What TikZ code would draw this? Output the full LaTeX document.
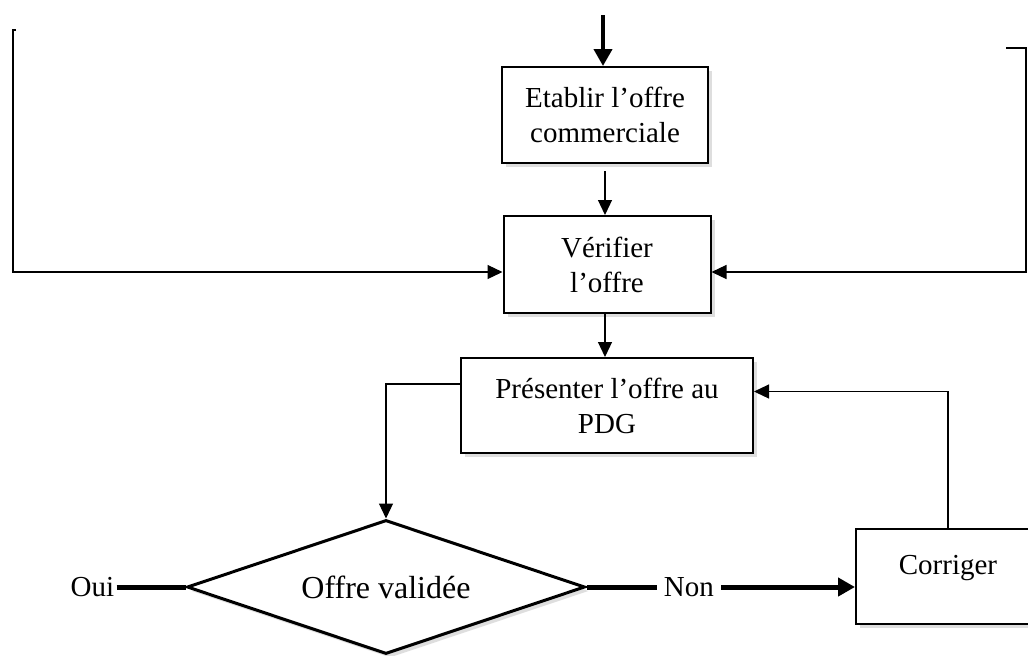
\documentclass[tikz,border=0pt]{standalone}
\usepackage{fontspec}
\setmainfont{Liberation Serif}
\usetikzlibrary{arrows.meta,shapes.geometric,shadows,positioning,calc}

\begin{document}
\begin{tikzpicture}[x=0.5pt, y=-0.5pt, line join=miter,
  every node/.style={font=\fontsize{14.5}{17.5}\selectfont},
  box/.style={draw, line width=1pt, fill=white, align=center, inner sep=0pt,
    drop shadow={shadow xshift=2pt, shadow yshift=-2pt, fill=black!25}},
  link/.style={-{Triangle[length=7.5pt,width=7pt]}, line width=0.6pt},
  bold/.style={line width=2.5pt}]
\fill[white] (0,0) rectangle (1028,655);
\useasboundingbox (0,0) rectangle (1028,655);
\clip (0,0) rectangle (1028,655);

\node[box, minimum width=103pt, minimum height=48pt] (etablir) at (605,115) {Etablir l'offre\\commerciale};
\node[box, minimum width=103.5pt, minimum height=48.5pt] (verifier) at (607,264.5) {Vérifier\\l'offre};
\node[box, minimum width=146pt, minimum height=47.5pt] (presenter) at (607,405.5) {Présenter l'offre au\\PDG};
\node[box, diamond, aspect=3, line width=1.5pt, minimum width=199pt, minimum height=67pt,
  font=\fontsize{16}{18}\selectfont] (valide) at (386,587) {Offre validée};
\node[box, minimum width=92pt, minimum height=47.5pt] (corriger) at (948,576.5) {\raisebox{4.5pt}[0.7em][0.2em]{Corriger}};
\node[left=34.5pt of valide.west, inner sep=1pt] (oui) {Oui};
\node[right=35pt of valide.east, inner sep=3.5pt] (non) {Non};

\coordinate (entree) at (603,15);
\coordinate (hautG) at (13,30);
\coordinate (basG) at (13,272);
\coordinate (hautD) at (1026,48);
\coordinate (basD) at (1026,272);
\coordinate (coudeP) at (386,384);

\draw[line width=2pt, -{Triangle[length=8.5pt,width=9pt]}] (entree) -- (entree |- etablir.north);
\draw[link] ($(etablir.south)+(0,7)$) -- (etablir.south |- verifier.north);
\draw[link] ($(hautG)+(3,0)$) -- (hautG) -- (basG) -- (basG -| verifier.west);
\draw[link] ($(hautD)+(-20,0)$) -- (hautD) -- (basD) -- (basD -| verifier.east);
\draw[link] (verifier.south -| etablir.south) -- (etablir.south |- presenter.north);
\draw[link] (presenter.west |- coudeP) -- (coudeP) -- (valide.north);
\draw[link] (corriger.north) |- ($(presenter.east)+(0,-14)$);
\draw[bold] (oui.east) -- (valide.west);
\draw[bold] (valide.east) -- (non.west);
\draw[bold, -{Triangle[length=8.5pt,width=9pt]}] (non.east) -- (non.east -| corriger.west);
\end{tikzpicture}
\end{document}
